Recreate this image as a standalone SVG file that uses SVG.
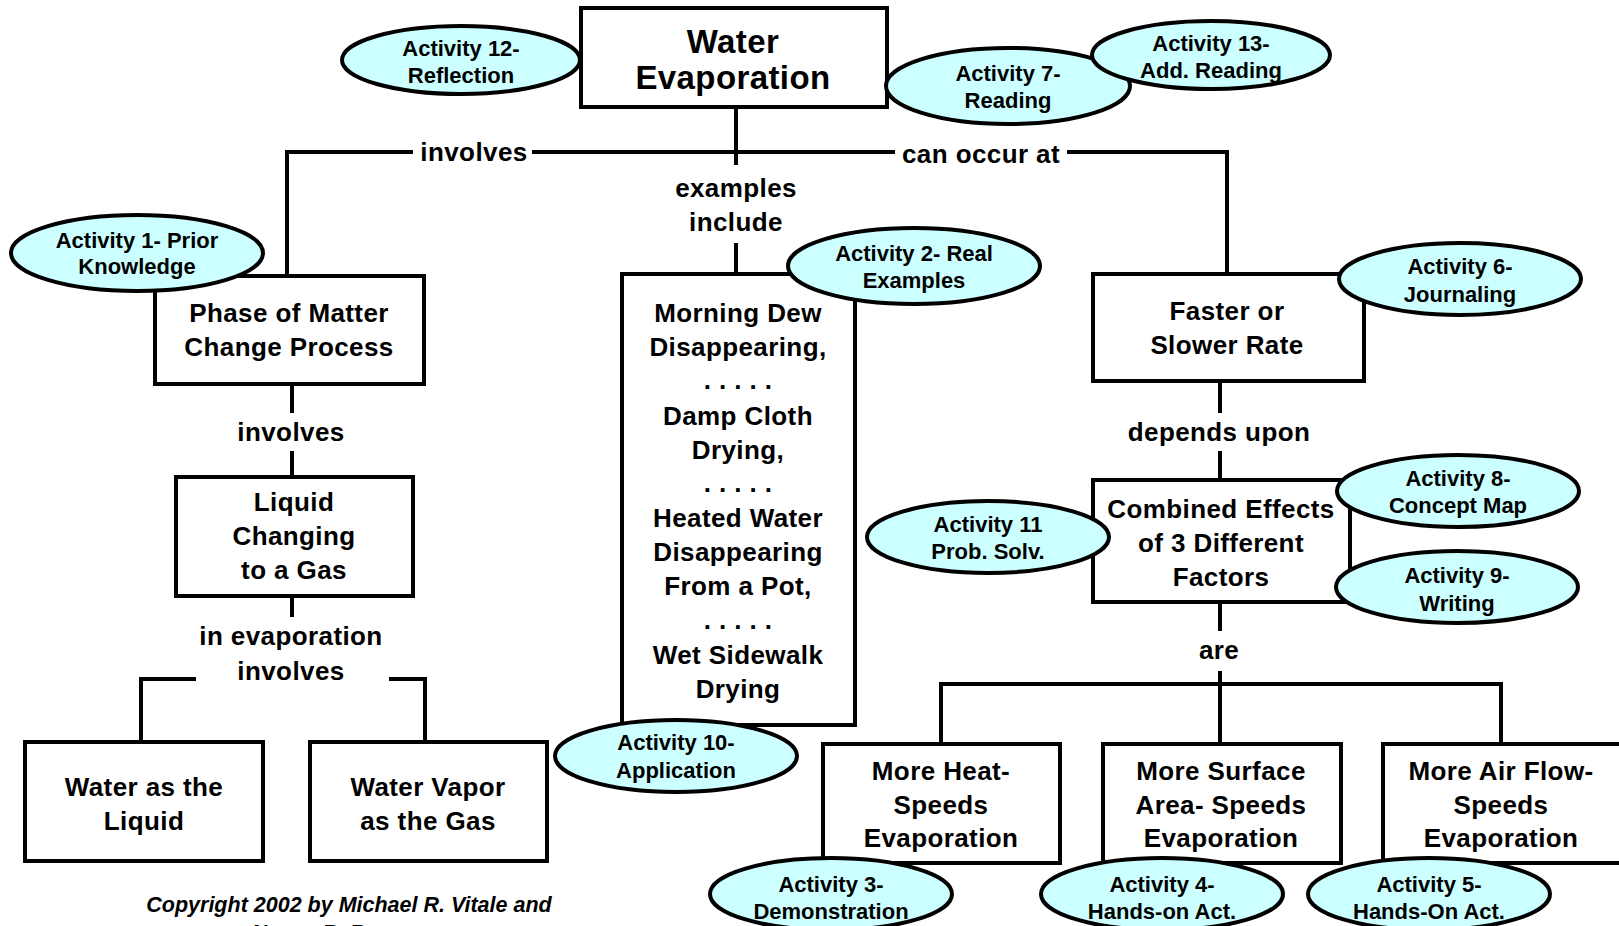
<svg xmlns="http://www.w3.org/2000/svg" width="1619" height="926" viewBox="0 0 1619 926">
<style>
.box{fill:#fff;stroke:#000;stroke-width:4}
.ell{fill:#ccffff;stroke:#000;stroke-width:4}
.ln{fill:none;stroke:#000;stroke-width:4}
text{font-family:"Liberation Sans",Arial,sans-serif;font-weight:bold;text-anchor:middle;dominant-baseline:central;fill:#000}
.t{font-size:26px;letter-spacing:0.4px}
.h{font-size:33px;letter-spacing:0.4px}
.e{font-size:22px}
.cp{font-size:21.5px;font-style:italic}
</style>
<rect width="1619" height="926" fill="#fff"/>
<g id="connectors">
<path class="ln" d="M736 107V165M287 276V152H413M532 152H895M1067 152H1227V274"/>
<path class="ln" d="M736 243V274"/>
<path class="ln" d="M292 384V413M292 451V477M292 596V617"/>
<path class="ln" d="M196 679H141V742M389 679H425V742"/>
<path class="ln" d="M1220 381V413M1220 451V480M1220 602V631M1220 671V744M941 744V684H1501V744"/>
<text class="t" x="474" y="152">involves</text>
<text class="t" x="981" y="154">can occur at</text>
<text class="t" x="736" y="188">examples</text>
<text class="t" x="736" y="222">include</text>
<text class="t" x="291" y="432">involves</text>
<text class="t" x="291" y="636">in evaporation</text>
<text class="t" x="291" y="671">involves</text>
<text class="t" x="1219" y="432">depends upon</text>
<text class="t" x="1219" y="650">are</text>
</g>
<g id="n-water"><rect class="box" x="581" y="8" width="306" height="99"/><text class="h" x="733" y="41">Water</text><text class="h" x="733" y="77">Evaporation</text></g>
<g id="n-phase"><rect class="box" x="155" y="276" width="269" height="108"/><text class="t" x="289" y="313">Phase of Matter</text><text class="t" x="289" y="347">Change Process</text></g>
<g id="n-liquid"><rect class="box" x="176" y="477" width="237" height="119"/><text class="t" x="294" y="502">Liquid</text><text class="t" x="294" y="536">Changing</text><text class="t" x="294" y="570">to a Gas</text></g>
<g id="n-wliquid"><rect class="box" x="25" y="742" width="238" height="119"/><text class="t" x="144" y="787">Water as the</text><text class="t" x="144" y="821">Liquid</text></g>
<g id="n-vapor"><rect class="box" x="310" y="742" width="237" height="119"/><text class="t" x="428" y="787">Water Vapor</text><text class="t" x="428" y="821">as the Gas</text></g>
<g id="n-examples"><rect class="box" x="622" y="274" width="233" height="451"/>
<text class="t" x="738" y="313">Morning Dew</text><text class="t" x="738" y="347">Disappearing,</text><text class="t" x="738" y="380">. . . . .</text>
<text class="t" x="738" y="416">Damp Cloth</text><text class="t" x="738" y="450">Drying,</text><text class="t" x="738" y="483">. . . . .</text>
<text class="t" x="738" y="518">Heated Water</text><text class="t" x="738" y="552">Disappearing</text><text class="t" x="738" y="586">From a Pot,</text><text class="t" x="738" y="620">. . . . .</text>
<text class="t" x="738" y="655">Wet Sidewalk</text><text class="t" x="738" y="689">Drying</text></g>
<g id="n-faster"><rect class="box" x="1093" y="274" width="271" height="107"/><text class="t" x="1227" y="311">Faster or</text><text class="t" x="1227" y="345">Slower Rate</text></g>
<g id="n-combined"><rect class="box" x="1093" y="480" width="257" height="122"/><text class="t" x="1221" y="509">Combined Effects</text><text class="t" x="1221" y="543">of 3 Different</text><text class="t" x="1221" y="577">Factors</text></g>
<g id="n-heat"><rect class="box" x="823" y="744" width="237" height="119"/><text class="t" x="941" y="771">More Heat-</text><text class="t" x="941" y="805">Speeds</text><text class="t" x="941" y="838">Evaporation</text></g>
<g id="n-surface"><rect class="box" x="1103" y="744" width="238" height="119"/><text class="t" x="1221" y="771">More Surface</text><text class="t" x="1221" y="805">Area- Speeds</text><text class="t" x="1221" y="838">Evaporation</text></g>
<g id="n-air"><rect class="box" x="1383" y="744" width="240" height="119"/><text class="t" x="1501" y="771">More Air Flow-</text><text class="t" x="1501" y="805">Speeds</text><text class="t" x="1501" y="838">Evaporation</text></g>
<g id="a12"><ellipse class="ell" cx="461" cy="60" rx="119" ry="34"/><text class="e" x="461" y="48">Activity 12-</text><text class="e" x="461" y="75">Reflection</text></g>
<g id="a7"><ellipse class="ell" cx="1008" cy="86" rx="122" ry="38"/><text class="e" x="1008" y="73">Activity 7-</text><text class="e" x="1008" y="100">Reading</text></g>
<g id="a13"><ellipse class="ell" cx="1211" cy="55" rx="119" ry="34"/><text class="e" x="1211" y="43">Activity 13-</text><text class="e" x="1211" y="70">Add. Reading</text></g>
<g id="a1"><ellipse class="ell" cx="137" cy="253" rx="126" ry="38"/><text class="e" x="137" y="240">Activity 1- Prior</text><text class="e" x="137" y="266">Knowledge</text></g>
<g id="a2"><ellipse class="ell" cx="914" cy="266" rx="126" ry="38"/><text class="e" x="914" y="253">Activity 2- Real</text><text class="e" x="914" y="280">Examples</text></g>
<g id="a6"><ellipse class="ell" cx="1460" cy="279" rx="121" ry="36"/><text class="e" x="1460" y="266">Activity 6-</text><text class="e" x="1460" y="294">Journaling</text></g>
<g id="a8"><ellipse class="ell" cx="1458" cy="491" rx="121" ry="36"/><text class="e" x="1458" y="478">Activity 8-</text><text class="e" x="1458" y="505">Concept Map</text></g>
<g id="a9"><ellipse class="ell" cx="1457" cy="587" rx="121" ry="36"/><text class="e" x="1457" y="575">Activity 9-</text><text class="e" x="1457" y="603">Writing</text></g>
<g id="a11"><ellipse class="ell" cx="988" cy="537" rx="121" ry="36"/><text class="e" x="988" y="524">Activity 11</text><text class="e" x="988" y="551">Prob. Solv.</text></g>
<g id="a10"><ellipse class="ell" cx="676" cy="756" rx="121" ry="36"/><text class="e" x="676" y="742">Activity 10-</text><text class="e" x="676" y="770">Application</text></g>
<g id="a3"><ellipse class="ell" cx="831" cy="894" rx="121" ry="36"/><text class="e" x="831" y="884">Activity 3-</text><text class="e" x="831" y="911">Demonstration</text></g>
<g id="a4"><ellipse class="ell" cx="1162" cy="894" rx="121" ry="36"/><text class="e" x="1162" y="884">Activity 4-</text><text class="e" x="1162" y="911">Hands-on Act.</text></g>
<g id="a5"><ellipse class="ell" cx="1429" cy="894" rx="121" ry="36"/><text class="e" x="1429" y="884">Activity 5-</text><text class="e" x="1429" y="911">Hands-On Act.</text></g>
<g id="copyright"><text class="cp" x="349" y="905">Copyright 2002 by Michael R. Vitale and</text><text class="cp" x="349" y="933">Nancy R. Romance</text></g>
</svg>
